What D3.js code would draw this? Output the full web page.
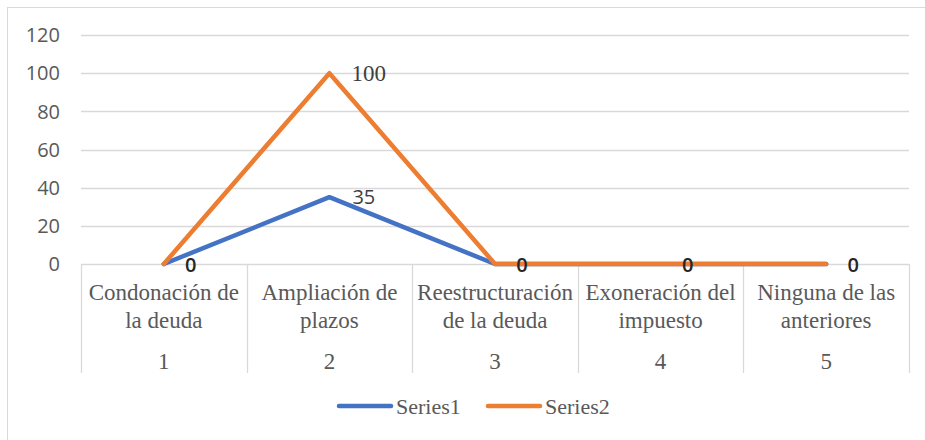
<!DOCTYPE html>
<html>
<head>
<meta charset="utf-8">
<script src="https://cdn.jsdelivr.net/npm/d3@7"></script>
<style>
  body { margin: 0; background: #fff; }
  svg { display: block; }
  .serif { font-family: "Liberation Serif", "Times New Roman", serif; }
  .sans { font-family: "Open Sans", "Liberation Sans", sans-serif; }
</style>
</head>
<body>
<div class="chart"></div>
<script>
// chart data
const categories = ["Condonación de la deuda", "Ampliación de plazos", "Reestructuración de la deuda", "Exoneración del impuesto", "Ninguna de las anteriores"];
const categoryLines = [["Condonación de", "la deuda"], ["Ampliación de", "plazos"], ["Reestructuración", "de la deuda"], ["Exoneración del", "impuesto"], ["Ninguna de las", "anteriores"]];
const numbers = ["1", "2", "3", "4", "5"];
const series1 = [0, 35, 0, 0, 0];
const series2 = [0, 100, 0, 0, 0];
const seriesNames = ["Series1", "Series2"];
const colors = ["#4472C4", "#ED7D31"];
const yTicks = [0, 20, 40, 60, 80, 100, 120];

const width = 925, height = 440;
const margin = { top: 35, right: 16, bottom: 176, left: 81 };
const plotW = width - margin.left - margin.right;
const plotH = height - margin.top - margin.bottom;

const svg = d3.select(".chart")
    .append("svg")
    .attr("width", width)
    .attr("height", height);

// outer frame
svg.append("rect")
    .attr("x", 7.5).attr("y", 7.5)
    .attr("width", 930).attr("height", 440)
    .attr("fill", "#fff")
    .attr("stroke", "#d9d9d9");

const g = svg.append("g")
    .attr("transform", `translate(${margin.left}, ${margin.top})`);

const xScale = d3.scaleBand()
    .domain(categories)
    .range([0, plotW]);

const yScale = d3.scaleLinear()
    .domain([0, 120])
    .range([plotH, 0]);

// gridlines
g.selectAll(".grid")
    .data(yTicks)
    .enter()
    .append("line")
    .attr("x1", 0).attr("x2", plotW)
    .attr("y1", d => Math.round(yScale(d)) + 0.5)
    .attr("y2", d => Math.round(yScale(d)) + 0.5)
    .attr("stroke", "#d9d9d9")
    .attr("stroke-width", 1.3);

// y axis labels
g.selectAll(".ylab")
    .data(yTicks)
    .enter()
    .append("text")
    .attr("class", "sans")
    .attr("x", -21)
    .attr("y", d => yScale(d))
    .attr("dy", "0.36em")
    .attr("text-anchor", "end")
    .style("font-size", "20px")
    .attr("fill", "#595959")
    .text(d => d);

// category separators
const seps = d3.range(categories.length + 1).map(i => i * xScale.bandwidth());
g.selectAll(".sep")
    .data(seps)
    .enter()
    .append("line")
    .attr("x1", d => Math.round(d) + 0.5)
    .attr("x2", d => Math.round(d) + 0.5)
    .attr("y1", plotH)
    .attr("y2", plotH + 109)
    .attr("stroke", "#d9d9d9")
    .attr("stroke-width", 1.3);

// category labels (two lines each)
categories.forEach((d, i) => {
    const x = xScale(d) + xScale.bandwidth() / 2;
    categoryLines[i].forEach((txt, j) => {
        g.append("text")
            .attr("class", "serif")
            .attr("x", x)
            .attr("y", plotH + 36 + j * 28)
            .attr("text-anchor", "middle")
            .style("font-size", "23px")
            .attr("fill", "#595959")
            .text(txt);
    });
});

// number row
g.selectAll(".num")
    .data(numbers)
    .enter()
    .append("text")
    .attr("class", "serif")
    .attr("x", (d, i) => xScale(categories[i]) + xScale.bandwidth() / 2)
    .attr("y", plotH + 105)
    .attr("text-anchor", "middle")
    .style("font-size", "23px")
    .attr("fill", "#595959")
    .text(d => d);

const line = d3.line()
    .x((d, i) => xScale(categories[i]) + xScale.bandwidth() / 2)
    .y(d => yScale(d));

[series1, series2].forEach((s, k) => {
    g.append("path")
        .datum(s)
        .attr("fill", "none")
        .attr("stroke", colors[k])
        .attr("stroke-width", 4.5)
        .attr("stroke-linejoin", "round")
        .attr("stroke-linecap", "round")
        .attr("d", line);
});

// data labels
const cx = i => xScale(categories[i]) + xScale.bandwidth() / 2;
g.append("text")
    .attr("class", "sans")
    .attr("x", cx(1) + 23).attr("y", yScale(series1[1]))
    .attr("dy", "0.36em")
    .style("font-size", "20px")
    .attr("fill", "#404040")
    .text(series1[1]);
g.append("text")
    .attr("class", "sans")
    .attr("x", cx(0) + 27).attr("y", yScale(series1[0]) + 1)
    .attr("dy", "0.36em")
    .attr("text-anchor", "middle")
    .style("font-size", "20px")
    .style("font-weight", "600")
    .attr("fill", "#262626")
    .text(series1[0]);
g.append("text")
    .attr("class", "serif")
    .attr("x", cx(1) + 22).attr("y", yScale(series2[1]))
    .attr("dy", "0.35em")
    .style("font-size", "23px")
    .attr("fill", "#404040")
    .text(series2[1]);
[2, 3, 4].forEach(i => {
    g.append("text")
        .attr("class", "sans")
        .attr("x", cx(i) + 27).attr("y", yScale(series2[i]) + 1)
        .attr("dy", "0.36em")
        .attr("text-anchor", "middle")
        .style("font-size", "20px")
        .style("font-weight", "600")
        .attr("fill", "#262626")
        .text(series2[i]);
});

// legend
const legendX = [339, 488];
seriesNames.forEach((name, k) => {
    svg.append("line")
        .attr("x1", legendX[k]).attr("x2", legendX[k] + 52)
        .attr("y1", 406).attr("y2", 406)
        .attr("stroke", colors[k])
        .attr("stroke-width", 4.5)
        .attr("stroke-linecap", "round");
    svg.append("text")
        .attr("class", "serif")
        .attr("x", legendX[k] + 57).attr("y", 406)
        .attr("dy", "0.35em")
        .style("font-size", "22px")
        .attr("fill", "#595959")
        .text(name);
});
</script>
</body>
</html>
